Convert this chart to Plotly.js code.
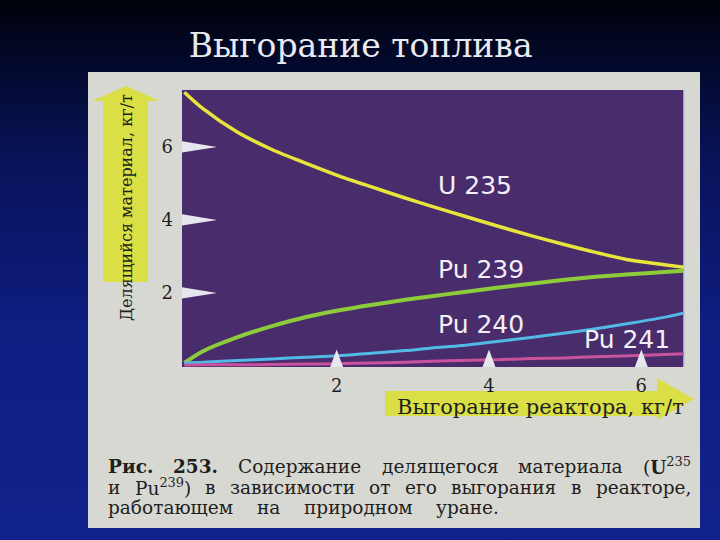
<!DOCTYPE html>
<html>
<head>
<meta charset="utf-8">
<script src="https://cdn.plot.ly/plotly-3.0.1.min.js"></script>
<style>
html, body { margin: 0; padding: 0; }
body {
  width: 720px; height: 540px; overflow: hidden;
  background: linear-gradient(to bottom, #00010a 0%, #030827 10%, #08135a 30%, #0e1d80 60%, #12228c 100%);
}
#chart { width: 720px; height: 540px; }
</style>
</head>
<body>
<div id="chart"></div>
<script>
// ---- data ----
var burnup = [0, 0.25, 0.7, 1.15, 1.6, 2.0, 2.45, 2.9, 3.25, 3.65, 4.1, 4.55, 5.0, 5.4, 5.85, 6.3, 6.56];
var u235   = [7.50, 7.04, 6.40, 5.93, 5.55, 5.23, 4.91, 4.60, 4.37, 4.12, 3.84, 3.57, 3.32, 3.11, 2.90, 2.77, 2.70];
var pu239  = [0.08, 0.41, 0.79, 1.09, 1.34, 1.51, 1.67, 1.81, 1.91, 2.02, 2.14, 2.25, 2.36, 2.44, 2.51, 2.57, 2.61];
var pu240  = [0.08, 0.10, 0.15, 0.19, 0.24, 0.28, 0.35, 0.42, 0.49, 0.56, 0.67, 0.78, 0.90, 1.02, 1.17, 1.33, 1.45];
var pu241  = [0.02, 0.03, 0.03, 0.04, 0.05, 0.06, 0.08, 0.10, 0.13, 0.15, 0.17, 0.20, 0.22, 0.25, 0.28, 0.31, 0.33];
var seriesNames = ['U 235', 'Pu 239', 'Pu 240', 'Pu 241'];
var xTicks = [2, 4, 6];
var yTicks = [2, 4, 6];
var slideTitle = 'Выгорание топлива';
var yTitle = 'Делящийся материал, кг/т';
var xTitle = 'Выгорание реактора, кг/т';
var captionLines = [
  ['<b>Рис.</b>', '<b>253.</b>', 'Содержание', 'делящегося', 'материала', '(<b>U</b><sup>235</sup>'],
  ['и', 'Pu<sup>239</sup>)', 'в', 'зависимости', 'от', 'его', 'выгорания', 'в', 'реакторе,'],
  ['работающем', 'на', 'природном', 'уране.']
];

// ---- layout helpers (pixel -> paper) ----
var L = 182, R = 684, T = 90, B = 367;
function PX(px) { return (px - L) / (R - L); }
function PY(py) { return (B - py) / (B - T); }
function poly(pts) {
  return 'M' + pts.map(function (p) { return PX(p[0]).toFixed(4) + ',' + PY(p[1]).toFixed(4); }).join(' L') + ' Z';
}

var serif = 'DejaVu Serif, serif';
var sans = 'DejaVu Sans, sans-serif';

var traces = [
  { x: burnup, y: u235, name: seriesNames[0], mode: 'lines', line: { color: '#e8e43c', width: 3.5, shape: 'spline', smoothing: 0.8 } },
  { x: burnup, y: pu239, name: seriesNames[1], mode: 'lines', line: { color: '#8ccb3a', width: 4, shape: 'spline', smoothing: 0.8 } },
  { x: burnup, y: pu240, name: seriesNames[2], mode: 'lines', line: { color: '#52b9e6', width: 3, shape: 'spline', smoothing: 0.8 } },
  { x: burnup, y: pu241, name: seriesNames[3], mode: 'lines', line: { color: '#c8529c', width: 3, shape: 'spline', smoothing: 0.8 } }
];

var shapes = [];
shapes.push({ type: 'rect', xref: 'paper', yref: 'paper', x0: PX(88), x1: PX(700), y0: PY(528), y1: PY(72),
  fillcolor: '#d8d8d3', line: { width: 0 }, layer: 'below' });
shapes.push({ type: 'rect', xref: 'paper', yref: 'paper', x0: 0, x1: 1, y0: 0, y1: 1,
  fillcolor: '#492c6b', line: { width: 0 }, layer: 'below' });
shapes.push({ type: 'line', xref: 'paper', yref: 'paper', x0: 1, x1: 1, y0: 0, y1: 1,
  line: { color: '#c4c6dc', width: 1.5 }, layer: 'below' });
shapes.push({ type: 'path', xref: 'paper', yref: 'paper', layer: 'below',
  path: poly([[103, 282], [103, 101], [92, 101], [126, 86], [160, 101], [148, 101], [148, 282]]),
  fillcolor: 'rgba(218,224,58,0.92)', line: { width: 0 } });
shapes.push({ type: 'path', xref: 'paper', yref: 'paper', layer: 'below',
  path: poly([[385, 391], [657, 391], [657, 378], [694, 399], [657, 420], [657, 416], [385, 416]]),
  fillcolor: 'rgba(218,224,58,0.92)', line: { width: 0 } });
yTicks.forEach(function (t) {
  shapes.push({ type: 'path', xref: 'x', yref: 'y', layer: 'above',
    path: 'M -0.2,' + (t - 0.21) + ' L 0.43,' + t + ' L -0.2,' + (t + 0.21) + ' Z',
    fillcolor: '#e6e6ee', line: { width: 0 } });
});
xTicks.forEach(function (t) {
  shapes.push({ type: 'path', xref: 'x', yref: 'y', layer: 'above',
    path: 'M ' + (t - 0.115) + ',-0.2 L ' + t + ',0.45 L ' + (t + 0.115) + ',-0.2 Z',
    fillcolor: '#e6e6ee', line: { width: 0 } });
});

var annotations = [];
function addText(text, px, py, size, opts) {
  opts = opts || {};
  annotations.push(Object.assign({
    text: text, xref: 'paper', yref: 'paper', x: PX(px), y: PY(py),
    xanchor: 'left', yanchor: 'middle', showarrow: false,
    font: { family: serif, size: size, color: '#1e1e1e' }
  }, opts));
}
var labelPos = [[3.81, 4.93], [3.90, 2.64], [3.90, 1.13], [5.81, 0.72]];
seriesNames.forEach(function (n, i) {
  annotations.push({ text: n, x: labelPos[i][0], y: labelPos[i][1], xref: 'x', yref: 'y',
    showarrow: false, xanchor: 'center', yanchor: 'middle',
    font: { family: sans, size: 25, color: '#f2f0f6' } });
});
addText(yTitle, 126, 208, 16, { textangle: -90, xanchor: 'center' });
addText(xTitle, 540, 407, 21, { xanchor: 'center' });

// caption: justify words between page margins (measured with canvas)
var ctx = document.createElement('canvas').getContext('2d');
var capSize = 18.5;
function wordWidth(html) {
  var parts = html.split(/(<\/?b>|<\/?sup>)/), bold = false, sup = false, w = 0;
  parts.forEach(function (p) {
    if (p === '<b>') bold = true; else if (p === '</b>') bold = false;
    else if (p === '<sup>') sup = true; else if (p === '</sup>') sup = false;
    else if (p) {
      ctx.font = (bold ? 'bold ' : '') + (sup ? capSize * 0.7 : capSize) + 'px "DejaVu Serif"';
      w += ctx.measureText(p).width;
    }
  });
  return w;
}
var capLeft = 106, capRights = [689, 689, 497], capYs = [466, 487, 507];
captionLines.forEach(function (words, li) {
  var widths = words.map(wordWidth);
  var total = widths.reduce(function (a, b) { return a + b; }, 0);
  var gap = (capRights[li] - capLeft - total) / (words.length - 1);
  var x = capLeft;
  words.forEach(function (w, i) {
    addText(w, x, capYs[li], capSize);
    x += widths[i] + gap;
  });
});

var layout = {
  width: 720, height: 540,
  margin: { l: L, r: 720 - R, t: T, b: 540 - B, pad: 0 },
  paper_bgcolor: 'rgba(0,0,0,0)',
  plot_bgcolor: 'rgba(0,0,0,0)',
  showlegend: false,
  title: { text: slideTitle, xref: 'container', yref: 'container', x: 0.501, y: 1 - 45 / 540,
    xanchor: 'center', yanchor: 'middle', font: { family: serif, size: 33, color: '#e8eaf2' } },
  xaxis: { range: [-0.03, 6.56], tickvals: xTicks, ticktext: xTicks.map(String), showgrid: false, zeroline: false,
    showline: false, ticks: '', ticklabelstandoff: 6, tickfont: { family: serif, size: 18, color: '#1e1e1e' }, fixedrange: true },
  yaxis: { range: [-0.03, 7.56], tickvals: yTicks, ticktext: yTicks.map(String), showgrid: false, zeroline: false,
    showline: false, ticks: '', ticklabelstandoff: 8, tickfont: { family: serif, size: 18, color: '#1e1e1e' }, fixedrange: true },
  shapes: shapes,
  annotations: annotations
};

Plotly.newPlot('chart', traces, layout, { displayModeBar: false, staticPlot: true });
</script>
</body>
</html>
